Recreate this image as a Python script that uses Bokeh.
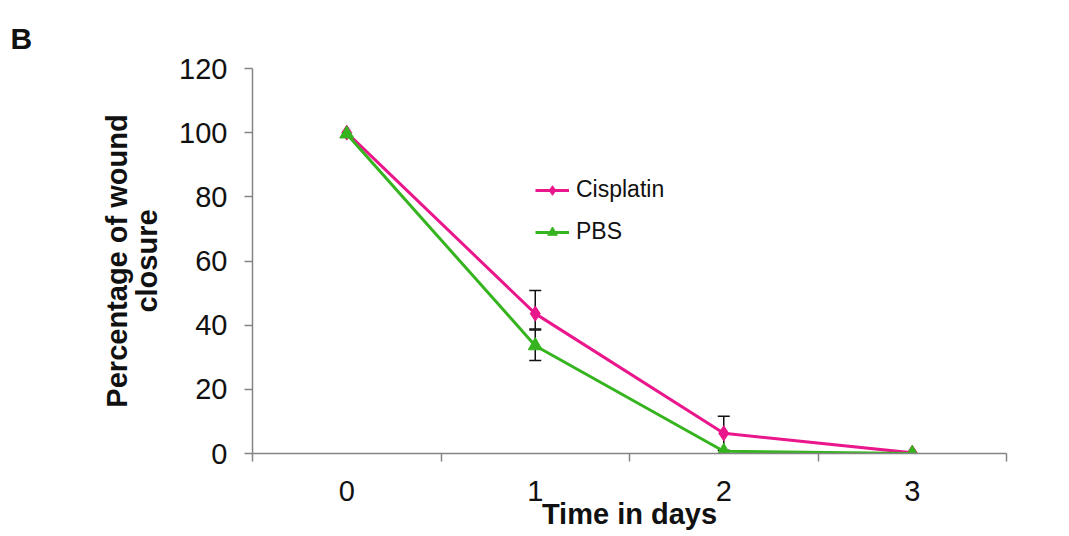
from bokeh.plotting import figure
from bokeh.models import (ColumnDataSource, FixedTicker, Range1d, Whisker, TeeHead,
                          Legend)
from bokeh.embed import file_html
from bokeh.resources import INLINE

# ---- data ----
days = [0, 1, 2, 3]
day_labels = ["0", "1", "2", "3"]
cisplatin = [100, 43.6, 6.3, 0.2]
pbs = [99.6, 33.6, 0.7, 0.0]
cis_err_up = [0, 7.2, 5.3, 0]
cis_err_down = [0, 4.8, 5.3, 0]
pbs_err_up = [0, 4.9, 0, 0]
pbs_err_down = [0, 4.6, 0, 0]
y_ticks = [0, 20, 40, 60, 80, 100, 120]

PINK = "#EA168B"
GREEN = "#36B41F"
AXIS = "#858585"
FONT = "Liberation Sans"

W, H = 1061, 532
p = figure(width=W, height=H, output_backend="svg", toolbar_location=None,
           x_range=Range1d(-0.5, 3.5), y_range=Range1d(0, 120),
           min_border_left=252, min_border_right=W - 1006, min_border_top=68,
           min_border_bottom=H - 454)
p.outline_line_color = None
p.xgrid.visible = False
p.ygrid.visible = False
p.background_fill_color = "white"
p.border_fill_color = "white"

# panel label "B"
p.title.text = "B"
p.title.align = "left"
p.title.vertical_align = "top"
p.title.offset = -242
p.title.text_font = FONT
p.title.text_font_style = "bold"
p.title.text_font_size = "30px"
p.title.text_color = "#111111"
p.title.standoff = 24

# axes
xa = p.xaxis[0]
xa.ticker = FixedTicker(ticks=days, minor_ticks=[-0.5, 0.5, 1.5, 2.5, 3.5])
xa.major_label_overrides = {d: l for d, l in zip(days, day_labels)}
xa.major_tick_out = 0
xa.major_tick_in = 0
xa.minor_tick_out = 8
xa.minor_tick_in = 0
xa.minor_tick_line_color = AXIS
xa.minor_tick_line_width = 1.5
xa.axis_line_color = AXIS
xa.axis_line_width = 1.5
xa.major_label_text_font = FONT
xa.major_label_text_font_size = "29px"
xa.major_label_text_color = "#111111"
xa.major_label_standoff = 19
xa.axis_label = "Time in days"
xa.axis_label_text_font = FONT
xa.axis_label_text_font_style = "bold"
xa.axis_label_text_font_size = "29px"
xa.axis_label_text_color = "#111111"
xa.axis_label_standoff = -6

ya = p.yaxis[0]
ya.ticker = FixedTicker(ticks=y_ticks, minor_ticks=[])
ya.major_tick_out = 8
ya.major_tick_in = 0
ya.major_tick_line_color = AXIS
ya.major_tick_line_width = 1.5
ya.axis_line_color = AXIS
ya.axis_line_width = 1.5
ya.major_label_text_font = FONT
ya.major_label_text_font_size = "29px"
ya.major_label_text_color = "#111111"
ya.major_label_standoff = 17
ya.axis_label = "Percentage of wound\nclosure"
ya.axis_label_text_font = FONT
ya.axis_label_text_font_style = "bold"
ya.axis_label_text_font_size = "29px"
ya.axis_label_text_color = "#111111"
ya.axis_label_text_line_height = 0.95
ya.axis_label_standoff = 13

# error bars
def whisker_src(y, up, down):
    xs, lo, hi = [], [], []
    for d, v, u, dn in zip(days, y, up, down):
        if u > 0 or dn > 0:
            xs.append(d)
            lo.append(v - dn)
            hi.append(v + u)
    return ColumnDataSource(dict(x=xs, lower=lo, upper=hi))

for y, up, dn in [(cisplatin, cis_err_up, cis_err_down), (pbs, pbs_err_up, pbs_err_down)]:
    w = Whisker(source=whisker_src(y, up, dn), base="x", upper="upper", lower="lower",
                line_color="#111111", line_width=1.5, level="underlay",
                upper_head=TeeHead(size=12, line_color="#111111", line_width=1.5),
                lower_head=TeeHead(size=12, line_color="#111111", line_width=1.5))
    p.add_layout(w)

src = ColumnDataSource(dict(x=days, cis=cisplatin, pbs=pbs))
l1 = p.line("x", "cis", source=src, line_color=PINK, line_width=3)
m1 = p.scatter("x", "cis", source=src, marker="diamond", size=15,
               fill_color=PINK, line_color=PINK)
l2 = p.line("x", "pbs", source=src, line_color=GREEN, line_width=3)
m2 = p.scatter("x", "pbs", source=src, marker="triangle", size=14,
               fill_color=GREEN, line_color=GREEN)

legend = Legend(items=[("Cisplatin", [l1, m1]), ("PBS", [l2, m2])],
                location=(283, 208), padding=0, margin=0, spacing=15,
                glyph_width=34, glyph_height=24, label_height=24, label_standoff=7,
                label_text_font=FONT, label_text_font_size="23px",
                label_text_color="#111111", border_line_color=None,
                background_fill_alpha=0)
p.add_layout(legend, "center")

open("out.html", "w").write(file_html(p, INLINE))
